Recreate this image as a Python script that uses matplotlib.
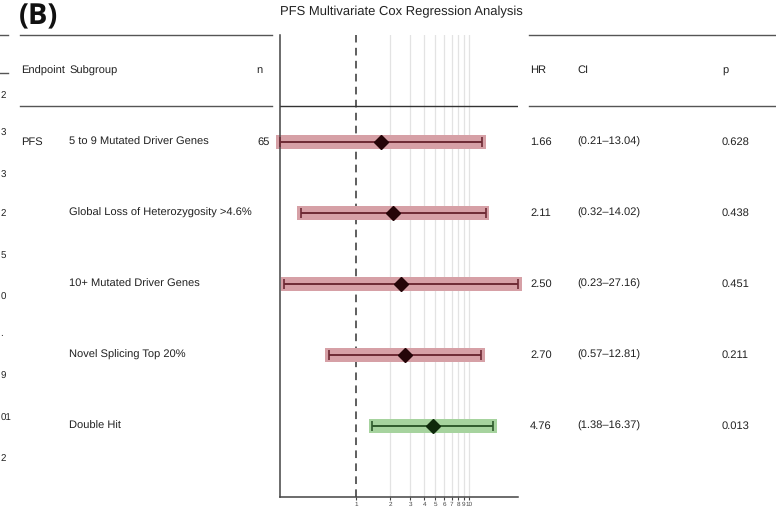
import numpy as np
import matplotlib
matplotlib.use("Agg")
import matplotlib.pyplot as plt
from matplotlib.lines import Line2D

plt.rcParams["font.family"] = ["Liberation Sans", "DejaVu Sans"]
plt.rcParams["text.hinting"] = "no_hinting"

# ---- data ----
endpoint = ["PFS", "", "", "", ""]
subgroups = [
    "5 to 9 Mutated Driver Genes",
    "Global Loss of Heterozygosity >4.6%",
    "10+ Mutated Driver Genes",
    "Novel Splicing Top 20%",
    "Double Hit",
]
n_obs = ["65", "", "", "", ""]
hr = [1.66, 2.11, 2.50, 2.70, 4.76]
ci_lo = [0.21, 0.32, 0.23, 0.57, 1.38]
ci_hi = [13.04, 14.02, 27.16, 12.81, 16.37]
pvals = [0.628, 0.438, 0.451, 0.211, 0.013]
xticks = [1, 2, 3, 4, 5, 6, 7, 8, 9, 10]

# trailing characters of the neighbouring panel at the left edge
side_labels = ["2", "3", "3", "2", "5", "0", ".", "9", "01", "2"]

W, H = 776, 508
fig = plt.figure(figsize=(W / 100, H / 100), dpi=100)

# pixel-coordinate overlay for the table part
bg = fig.add_axes([0, 0, 1, 1])
bg.set_xlim(0, W)
bg.set_ylim(H, 0)
bg.axis("off")

txt = "#222222"
line_c = "#555555"

# forest axes geometry (pixels)
ax_l, ax_r, ax_t, ax_b = 280, 518, 35, 497
ax = fig.add_axes([ax_l / W, 1 - ax_b / H, (ax_r - ax_l) / W, (ax_b - ax_t) / H])
ax.set_xscale("log")
ax.set_xlim(min(ci_lo), max(ci_hi))
ax.set_ylim(5.0, -1.5)
ax.patch.set_alpha(0)

rows = np.arange(len(hr))
row_px = ax_t + (rows + 1.5) * (ax_b - ax_t) / 6.5
head_px = ax_t + 0.5 * (ax_b - ax_t) / 6.5
sep_px = ax_t + (ax_b - ax_t) / 6.5

# grid and reference line
for t in xticks[1:]:
    ax.axvline(t, color="#e3e3e3", lw=0.9, zorder=0)
ax.axvline(1, color="#333333", lw=1.1, ls=(0, (5, 3.5)), zorder=1)
ax.axhline(-0.5, color="#333333", lw=1.0, zorder=1)

band_pad = 10 ** (3.5 / 112.7)
for i in rows:
    sig = pvals[i] < 0.05
    band = "#a6d39e" if sig else "#d6a0a6"
    lc = "#2f5a2c" if sig else "#6e2a34"
    mc = "#0f2a0c" if sig else "#250508"
    left = ci_lo[i] / band_pad
    right = ci_hi[i] * band_pad
    ax.barh(i, right - left, left=left, height=0.2, color=band,
            edgecolor="none", zorder=2, clip_on=False)
    ax.errorbar(hr[i], i, xerr=[[hr[i] - ci_lo[i]], [ci_hi[i] - hr[i]]],
                fmt="none", ecolor=lc, elinewidth=1.4, capsize=3.4,
                capthick=1.2, zorder=3, clip_on=False)
    ax.plot(hr[i], i, marker="D", ms=7, color=mc, zorder=4, clip_on=False)

for s in ["top", "right"]:
    ax.spines[s].set_visible(False)
for s in ["left", "bottom"]:
    ax.spines[s].set_color("#444444")
    ax.spines[s].set_linewidth(1.1)
ax.set_yticks([])
ax.set_xticks(xticks)
ax.set_xticklabels([str(t) for t in xticks])
ax.xaxis.set_minor_locator(matplotlib.ticker.NullLocator())
ax.tick_params(axis="x", length=2, width=0.8, color="#444444",
               labelsize=4.6, labelcolor="#444444", pad=1.5)

# title and panel letter
bg.text(401, 12, "PFS Multivariate Cox Regression Analysis", fontsize=9.4,
        color=txt, ha="center", va="center")
bg.text(19, 17, "(B)", fontsize=21, fontweight="bold", ha="left", va="center",
        color="#111111", family=["Open Sans", "DejaVu Sans"])

# table rules
for y in (ax_t, sep_px):
    bg.add_line(Line2D([20, 272], [y, y], color=line_c, lw=1.0))
    bg.add_line(Line2D([529, W], [y, y], color=line_c, lw=1.0))
for y in (35, 73):
    bg.add_line(Line2D([0, 8], [y, y], color=line_c, lw=1.0))

# headers
fs = 8
bg.text(21, head_px, "Endpoint", fontsize=fs, color=txt, va="center")
bg.text(69, head_px, "Subgroup", fontsize=fs, color=txt, va="center")
bg.text(259, head_px, "n", fontsize=fs, color=txt, va="center", ha="center")
bg.text(530, head_px, "HR", fontsize=fs, color=txt, va="center")
bg.text(577, head_px, "CI", fontsize=fs, color=txt, va="center")
bg.text(722, head_px, "p", fontsize=fs, color=txt, va="center")

for i, y in zip(rows, row_px):
    bg.text(21, y, endpoint[i], fontsize=fs, color=txt, va="center")
    bg.text(69, y, subgroups[i], fontsize=fs, color=txt, va="center")
    bg.text(270, y, n_obs[i], fontsize=fs, color=txt, va="center", ha="right")
    bg.text(530, y, f"{hr[i]:.2f}", fontsize=fs, color=txt, va="center")
    bg.text(577, y, f"({ci_lo[i]:.2f}\u2013{ci_hi[i]:.2f})", fontsize=fs,
            color=txt, va="center")
    bg.text(722, y, f"{pvals[i]:.3f}", fontsize=fs, color=txt, va="center")

side_y = [95, 133, 175, 213, 255, 297, 333, 376, 418, 458]
for lab, y in zip(side_labels, side_y):
    bg.text(0.5, y, lab, fontsize=7, color=txt, va="center", ha="left")

fig.savefig("out.png", dpi=100)
